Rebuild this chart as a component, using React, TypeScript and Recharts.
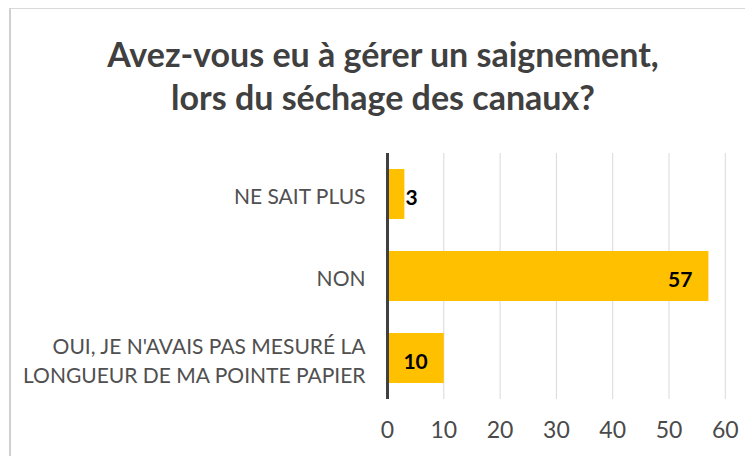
import { Bar, BarChart, CartesianGrid, LabelList, XAxis, YAxis } from "recharts";

const categories = [
  "NE SAIT PLUS",
  "NON",
  "OUI, JE N'AVAIS PAS MESURÉ LA\nLONGUEUR DE MA POINTE PAPIER",
];
const counts = [3, 57, 10];
const xTicks = [0, 10, 20, 30, 40, 50, 60];
const titleLines = ["Avez-vous eu à gérer un saignement,", "lors du séchage des canaux?"];

const data = categories.map((label, i) => ({ label, value: counts[i] }));

const FONT = "Lato, 'Open Sans', sans-serif";

function CategoryTick({ x, y, payload }: any) {
  const lines = String(payload.value).split("\n");
  const lh = 29;
  return (
    <text
      x={x}
      y={y}
      textAnchor="end"
      fill="#505050"
      fontSize={21}
      fontFamily={FONT}
      dominantBaseline="central"
    >
      {lines.map((line, i) => (
        <tspan key={i} x={x} y={y + 1 + (i - (lines.length - 1) / 2) * lh}>
          {line}
        </tspan>
      ))}
    </text>
  );
}

function ValueLabel({ x, y, width, height, value }: any) {
  const inside = width > 30;
  return (
    <text
      x={inside ? x + width - 16 : x + width + 1}
      y={y + height / 2 + 2}
      textAnchor={inside ? "end" : "start"}
      dominantBaseline="central"
      fill="#000"
      fontSize={21}
      fontWeight={700}
      fontFamily={FONT}
    >
      {value}
    </text>
  );
}

export default function App() {
  return (
    <div
      style={{
        position: "relative",
        marginLeft: 1,
        width: 744,
        height: 448,
        boxSizing: "border-box",
        borderTop: "1px solid #D9D9D9",
        borderLeft: "2px solid #D0D0D0",
        background: "#fff",
        overflow: "hidden",
        fontFamily: FONT,
      }}
    >
      <div
        style={{
          position: "absolute",
          left: 2,
          top: 23,
          width: 740,
          textAlign: "center",
          fontSize: 34,
          lineHeight: "43px",
          fontWeight: 700,
          color: "#404040",
        }}
      >
        {titleLines.map((t) => (
          <div key={t}>{t}</div>
        ))}
      </div>
      <div style={{ position: "absolute", left: 0, top: 0 }}>
        <BarChart
          width={742}
          height={440}
          data={data}
          layout="vertical"
          margin={{ top: 144, right: 27.7, bottom: 10, left: 0 }}
        >
          <CartesianGrid horizontal={false} stroke="#D9D9D9" strokeWidth={1} />
          <XAxis
            type="number"
            domain={[0, 60]}
            ticks={xTicks}
            height={40}
            axisLine={false}
            tickLine={false}
            tickSize={0}
            tickMargin={23}
            tick={{ fill: "#4A4A4A", fontSize: 23, fontFamily: FONT }}
            interval={0}
          />
          <YAxis
            type="category"
            dataKey="label"
            width={376.5}
            axisLine={{ stroke: "#404040", strokeWidth: 3 }}
            tickLine={false}
            tickSize={0}
            tickMargin={22}
            tick={<CategoryTick />}
            interval={0}
          />
          <Bar dataKey="value" fill="#FFC000" barSize={50} isAnimationActive={false}>
            <LabelList dataKey="value" content={<ValueLabel />} />
          </Bar>
        </BarChart>
      </div>
    </div>
  );
}
